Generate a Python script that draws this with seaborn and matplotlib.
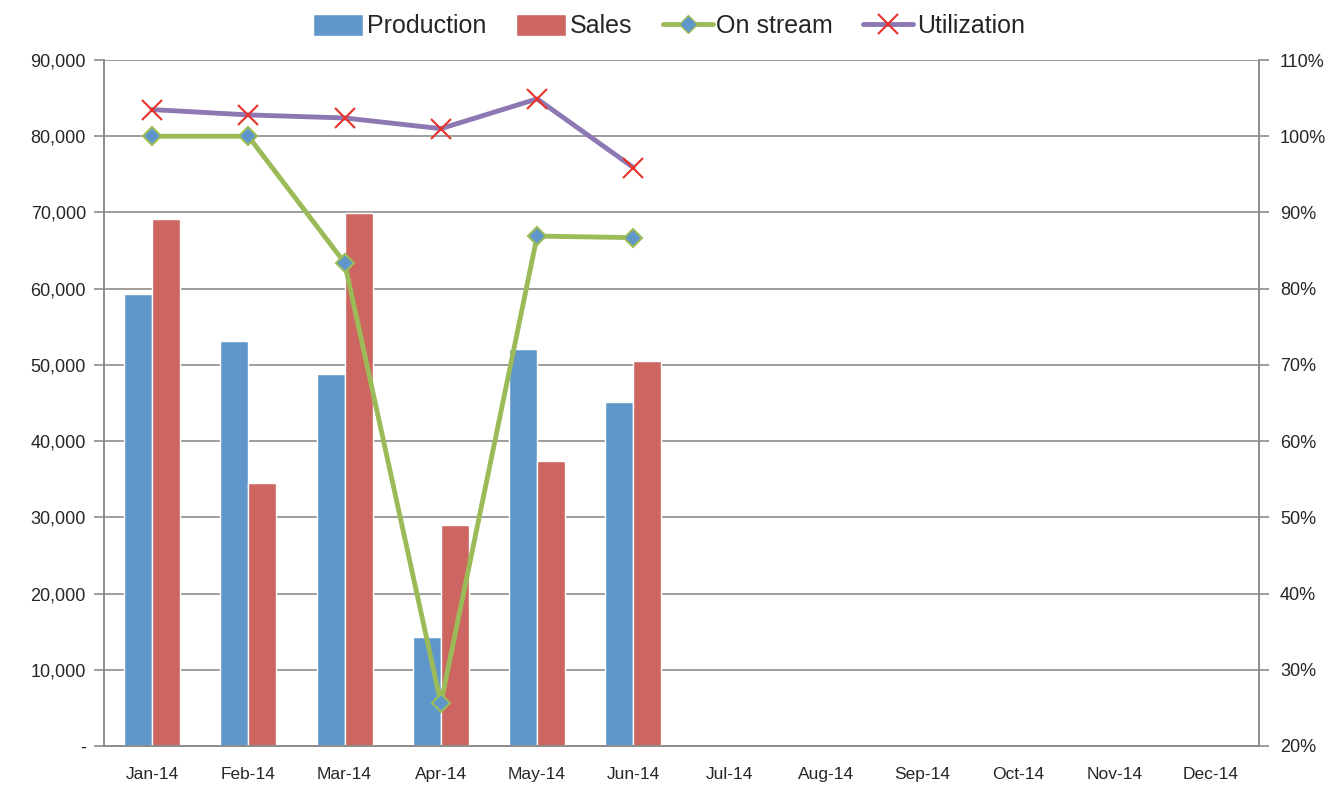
import numpy as np
import pandas as pd
import matplotlib
matplotlib.use('Agg')
import matplotlib.pyplot as plt
import matplotlib.ticker as mticker
from matplotlib.lines import Line2D
from matplotlib.patches import Patch
import seaborn as sns

months = ['Jan-14', 'Feb-14', 'Mar-14', 'Apr-14', 'May-14', 'Jun-14',
          'Jul-14', 'Aug-14', 'Sep-14', 'Oct-14', 'Nov-14', 'Dec-14']
production = [59300, 53150, 48800, 14300, 52100, 45150]
sales = [69150, 34500, 69950, 29000, 37400, 50500]
on_stream = [1.00, 1.00, 0.834, 0.256, 0.869, 0.867]
utilization = [1.035, 1.028, 1.024, 1.010, 1.049, 0.959]

sns.set_theme(style='white')
plt.rcParams['font.family'] = ['Liberation Sans', 'DejaVu Sans']

blue = '#6097CB'
red = '#CD6660'
green = '#9BBB59'
purple = '#8D78B4'
grid_c = '#8C8C8C'

n = len(production)
df = pd.DataFrame({
    'month': months[:n] * 2,
    'value': production + sales,
    'series': ['Production'] * n + ['Sales'] * n,
})

fig = plt.figure(figsize=(13.38, 7.91), dpi=100)
ax = fig.add_axes([0.0777, 0.0569, 0.8633, 0.8672])

sns.barplot(data=df, x='month', y='value', hue='series', order=months,
            hue_order=['Production', 'Sales'], palette=[blue, red],
            width=0.58, gap=0, saturation=1, ax=ax, legend=False)

ax.set_xlim(-0.5, len(months) - 0.5)
ax.set_ylim(0, 90000)
ax.set_yticks(np.arange(0, 90001, 10000))
ax.yaxis.set_major_formatter(mticker.FuncFormatter(lambda v, p: '-' if v == 0 else f'{v:,.0f}'))
ax.yaxis.grid(True, color=grid_c, linewidth=1.2)
ax.set_axisbelow(True)
ax.set_xlabel('')
ax.set_ylabel('')

ax.set_xticks(np.arange(len(months)))
ax.set_xticklabels(months)
ax.set_xticks(np.arange(-0.5, len(months)), minor=True)
ax.tick_params(axis='x', which='major', length=0, pad=15, labelsize=12.5)
ax.tick_params(axis='x', which='minor', length=7, width=1.2, color=grid_c, direction='out')
ax.tick_params(axis='y', length=7, width=1.2, color=grid_c, direction='out', left=True,
               labelsize=13, pad=6)

for s in ['left', 'right', 'bottom']:
    ax.spines[s].set_color(grid_c)
    ax.spines[s].set_linewidth(1.2)
ax.spines['top'].set_visible(False)

ax2 = ax.twinx()
xs = np.arange(n)
sns.lineplot(x=xs, y=on_stream, ax=ax2, color=green, linewidth=3.5, sort=False,
             marker='D', markersize=9, markerfacecolor=blue, markeredgecolor=green,
             markeredgewidth=1.5)
sns.lineplot(x=xs, y=utilization, ax=ax2, color=purple, linewidth=3.5, sort=False)
ax2.plot(xs, utilization, linestyle='none', marker='x', markersize=14,
         markeredgecolor='#E8322A', markeredgewidth=1.5)
ax2.set_ylim(0.2, 1.1)
ax2.set_yticks(np.arange(0.2, 1.101, 0.1))
ax2.yaxis.set_major_formatter(mticker.PercentFormatter(1.0, decimals=0))
ax2.tick_params(axis='y', length=7, width=1.2, color=grid_c, direction='out', right=True,
                labelsize=13, pad=8)
ax2.grid(False)
ax2.set_xlim(-0.5, len(months) - 0.5)
for s in ['left', 'right', 'bottom']:
    ax2.spines[s].set_color(grid_c)
    ax2.spines[s].set_linewidth(1.2)
ax2.spines['top'].set_visible(False)

handles = [
    Patch(facecolor=blue, label='Production'),
    Patch(facecolor=red, label='Sales'),
    Line2D([], [], color=green, linewidth=3.5, marker='D', markersize=9,
           markerfacecolor=blue, markeredgecolor=green, label='On stream'),
    Line2D([], [], color=purple, linewidth=3.5, marker='x', markersize=14,
           markeredgecolor='#E8322A', markeredgewidth=1.5, label='Utilization'),
]
fig.legend(handles=handles, loc='center', bbox_to_anchor=(0.5, 0.967), ncol=4,
           frameon=False, fontsize=18, handlelength=2.0, handleheight=1.0,
           handletextpad=0.15, columnspacing=1.2)

plt.savefig('out.png', dpi=100, facecolor='white')
plt.close()
